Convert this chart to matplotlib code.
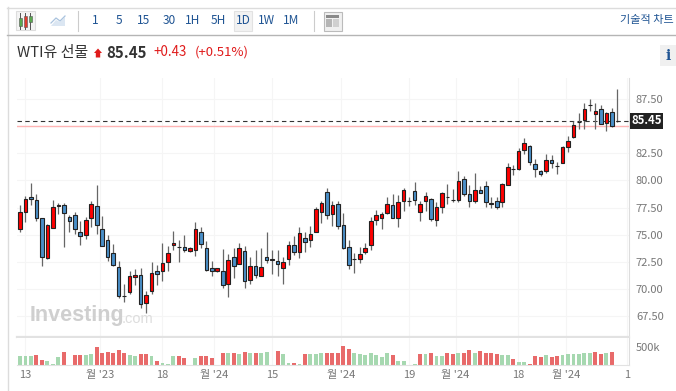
#WTI candlestick chart with volume, investing.com style
import matplotlib
matplotlib.use("Agg")
import matplotlib.pyplot as plt
from matplotlib.patches import Rectangle, Polygon

plt.rcParams['font.family'] = ['Noto Sans CJK KR', 'DejaVu Sans']

W, H = 676, 391

opens = [75.55,77.09,78.44,78.17,76.54,72.86,75.65,77.61,77.77,76.6,76.78,75.22,75.0,76.54,77.67,75.56,74.48,73.29,72.06,69.33,
         69.69,71.11,71.32,68.68,69.79,71.6,71.66,72.43,74.02,73.84,73.84,73.47,73.56,75.22,73.75,71.9,71.6,71.66,70.43,72.98,
         72.3,73.47,70.86,72.15,71.23,72.98,72.64,72.55,71.9,72.73,74.02,73.38,74.67,74.51,75.25,77.12,78.9,76.94,77.8,75.86,
         73.83,72.73,72.73,73.43,74.02,76.35,76.54,76.99,77.76,76.5,78.07,78.07,78.99,77.09,78.07,78.32,76.35,77.58,78.5,78.22,
         78.22,80.1,78.71,78.07,79.11,79.45,77.8,78.08,78.01,79.61,81.05,81.02,82.77,83.2,81.48,80.84,80.84,81.88,81.33,81.64,
         83.11,83.97,85.38,85.6,86.92,86.09,86.58,85.29,86.27,85.45]
closes = [77.09,78.26,78.26,76.57,72.89,75.86,77.58,77.74,77.0,76.29,75.49,74.85,76.39,77.8,75.89,73.99,72.98,72.24,69.33,69.33,
          71.14,71.26,68.59,69.39,71.5,71.35,72.4,73.35,74.21,73.84,73.56,73.75,75.56,74.11,71.75,71.6,71.9,70.31,72.64,72.15,
          73.75,70.71,72.15,71.32,72.0,72.64,72.73,72.3,72.46,74.02,73.38,75.13,74.33,75.07,77.34,77.95,76.78,77.74,75.83,73.77,
          72.24,72.73,73.25,73.77,76.23,76.78,76.87,77.82,76.57,77.98,79.11,78.07,78.16,77.82,78.56,76.41,77.52,78.81,78.5,78.22,
          79.94,78.71,78.07,79.11,78.87,77.98,77.89,77.55,79.7,81.21,81.05,82.68,83.42,81.67,81.02,80.56,81.88,81.58,81.33,83.11,
          83.66,85.14,85.38,86.58,86.92,86.43,85.23,86.18,84.98,85.45]
highs = [77.73,78.56,79.73,78.75,76.54,75.99,78.2,77.95,77.89,76.82,77.06,76.26,76.66,78.07,79.58,76.72,74.97,74.14,72.61,70.46,
         71.6,71.81,71.9,69.76,72.43,72.21,74.21,73.96,75.34,74.51,74.94,73.84,76.17,75.71,74.39,72.58,71.96,73.65,73.22,73.81,
         74.21,73.96,72.92,73.59,73.81,75.28,73.59,73.59,72.92,74.42,74.91,75.74,75.28,75.83,77.55,78.07,79.27,78.1,78.1,76.97,
         74.51,73.28,73.83,74.2,76.6,77.27,77.06,78.44,78.75,78.65,79.27,78.5,79.82,78.13,78.93,78.35,78.01,78.93,79.64,79.24,
         80.86,80.37,79.57,80.68,79.48,79.94,78.44,78.5,79.79,81.58,81.39,83.02,83.88,83.26,81.94,80.96,82.43,82.34,81.73,83.17,
         84.09,85.44,86.18,87.1,87.53,87.1,86.92,86.3,86.64,88.42]
lows = [75.28,76.2,77.73,76.29,72.12,72.79,75.59,76.91,73.84,75.28,75.07,74.08,74.64,75.68,75.03,73.96,72.61,72.12,69.11,68.8,
        69.54,70.34,68.22,67.76,69.54,70.37,70.68,71.6,73.59,72.46,73.44,73.41,73.07,73.75,71.69,71.2,71.54,70.12,69.29,70.98,
        72.27,70.12,70.49,70.98,71.14,72.36,71.38,71.2,70.49,72.21,73.13,72.86,73.44,73.9,75.22,76.11,76.42,75.83,75.56,73.68,
        71.81,71.44,72.36,73.22,73.59,75.92,75.55,76.9,76.5,75.74,77.18,77.64,77.73,76.29,77.21,76.29,75.8,76.97,77.82,78.01,
        78.04,78.56,77.58,77.95,78.81,77.55,77.43,77.34,77.52,79.55,80.5,80.96,82.43,81.45,80.35,80.41,80.65,81.11,80.56,81.58,
        82.62,83.91,84.74,84.71,86.36,84.71,85.17,84.55,84.92,85.41]

# volume in thousands, some days have no bar
volumes = [246,246,246,264,127,100,27,218,364,0,264,264,264,291,500,337,355,337,410,318,
           282,246,291,291,246,100,64,18,237,237,191,0,191,237,237,191,0,318,318,318,
           291,355,328,318,337,355,0,382,291,64,64,18,291,291,291,337,318,318,318,528,
           428,318,291,264,318,282,209,318,264,118,100,0,27,291,309,318,246,246,318,300,
           337,318,410,337,382,318,318,291,282,264,164,73,73,18,237,209,264,209,237,264,
           291,309,291,328,318,364,291,328,364,0]
vol_sides = list("gggrrgggrr" "rrggrrrrrr" "ggrrgrgggr" "rrgrrrrrgr" "grgrggrrgg"
                 "rgrgggrrrr" "rgggggggrg" "gggrgrggrr" "grrgrrrrgg" "rggrrrgrrg" "gggggrrgrg")

price_ticks = [67.5, 70, 72.5, 75, 77.5, 80, 82.5, 87.5]
price_labels = ["67.50", "70.00", "72.50", "75.00", "77.50", "80.00", "82.50", "87.50"]
date_ticks = [1.9, 15.6, 27, 36.4, 47, 59.6, 72, 80.5, 91.9, 100.6, 111.8]
date_labels = ["13", "월 '23", "18", "월 '24", "15", "월 '24", "19", "월 '24", "18", "월 '24", "1"]
intervals = ["1", "5", "15", "30", "1H", "5H", "1D", "1W", "1M"]
last_price = 85.45
prev_line = 85.0

fig = plt.figure(figsize=(W / 100, H / 100), dpi=100)

def pane(l, t, r, b):
    return fig.add_axes([l / W, 1 - b / H, (r - l) / W, (b - t) / H])

# x index 1 sits at pixel 20, bars are 5.48 px apart
x0 = 1 - 3 / 5.48
x1 = 1 + (629 - 20) / 5.48

ax = pane(17, 78, 629, 337)
ax.set_xlim(x0, x1)
ax.set_ylim(65.56, 89.44)
ax.set_yticks(price_ticks + [prev_line])
ax.set_yticklabels(price_labels + [""])
ax.yaxis.tick_right()
ax.tick_params(axis='y', length=0, pad=5, labelsize=8, labelcolor='#777777')
ax.set_xticks(date_ticks)
ax.tick_params(axis='x', length=0, labelbottom=False)
ax.grid(True, color='#f5f5f5', lw=0.8)
ax.set_axisbelow(True)
for s in ['top', 'left']:
    ax.spines[s].set_visible(False)
ax.spines['right'].set_color('#dddddd')
ax.spines['bottom'].set_color('#e2e2e2')
ax.spines['bottom'].set_linewidth(1.6)

xs = list(range(1, len(opens) + 1))
ax.axhline(prev_line, color='#ffb4b4', lw=1.0, zorder=1)
ax.axhline(last_price, color='#333333', lw=0.8, dashes=(4, 3), zorder=1)
ax.vlines(xs, lows, highs, color='#666666', lw=0.9, zorder=2)
body_col = ['#ff0000' if c >= o else '#4a8fc9' for o, c in zip(opens, closes)]
ax.bar(xs, [abs(c - o) for o, c in zip(opens, closes)], bottom=[min(o, c) for o, c in zip(opens, closes)],
       width=0.66, color=body_col, edgecolor='#222222', lw=0.8, zorder=3)

axv = pane(17, 338, 629, 365)
axv.set_xlim(x0, x1)
axv.set_ylim(0, 738)
vol_col = ['#a6d8b0' if s == 'g' else '#e86a6a' for s in vol_sides]
axv.bar(xs, volumes, width=0.72, color=vol_col, zorder=2)
axv.set_yticks([500])
axv.set_yticklabels(["500k"])
axv.yaxis.tick_right()
axv.tick_params(axis='y', length=0, pad=5, labelsize=8, labelcolor='#777777')
axv.set_xticks(date_ticks)
axv.set_xticklabels(date_labels)
axv.tick_params(axis='x', length=0, pad=3.5, labelsize=8, labelcolor='#777777')
axv.grid(True, axis='x', color='#f5f5f5', lw=0.8)
axv.set_axisbelow(True)
for s in ['top', 'left']:
    axv.spines[s].set_visible(False)
axv.spines['right'].set_color('#dddddd')
axv.spines['bottom'].set_color('#e2e2e2')

# page furniture in pixel coordinates
top = fig.add_axes([0, 0, 1, 1], zorder=5)
top.set_xlim(0, W)
top.set_ylim(H, 0)
top.axis('off')
top.patch.set_alpha(0)

top.plot([7, W], [7.5, 7.5], color='#dcdcdc', lw=1.0)
top.plot([7.5, 7.5], [7, H], color='#dcdcdc', lw=1.0)
top.plot([7, W], [34.5, 34.5], color='#b5b5b5', lw=1.0)
top.plot([77.5, 77.5], [11, 31], color='#cccccc', lw=0.8)
top.plot([313.5, 313.5], [11, 31], color='#cccccc', lw=0.8)

# candle icon
top.add_patch(Rectangle((15.5, 11), 19, 19, fc='#f4f4f4', ec='#dddddd', lw=0.8))
for cx, c, y1, y2 in [(20, '#5aa84f', 18, 26), (25, '#e03b2e', 16, 27), (30, '#5aa84f', 16, 22)]:
    top.plot([cx, cx], [13, 29], color='#555555', lw=0.7)
    top.add_patch(Rectangle((cx - 1.5, y1), 3, y2 - y1, fc=c, ec='#555555', lw=0.4, zorder=3))
# area icon
top.add_patch(Polygon([(51, 26), (56, 20), (60, 22), (65, 17), (65, 26)], fc='#dbe6f2', ec='none'))
top.plot([51, 56, 60, 65], [23, 18, 21, 16], color='#a9c3de', lw=0.9)
# layout icon
top.add_patch(Rectangle((323.5, 11.5), 18, 19, fc='#f0f0f0', ec='#bbbbbb', lw=0.8))
top.add_patch(Rectangle((326, 15), 13, 2.5, fc='#8a8a8a', ec='none'))
top.add_patch(Rectangle((326, 19), 6, 8, fc='#b5b5b5', ec='none'))
top.add_patch(Rectangle((333, 19), 6, 8, fc='#d0d0d0', ec='none'))

top.add_patch(Rectangle((233.5, 11), 18, 20, fc='#f2f2f2', ec='#e2e2e2', lw=0.8))
for label, cx in zip(intervals, [95, 119, 144, 169, 193, 218, 243, 267, 291]):
    top.text(cx, 20.5, label, ha='center', va='center', fontsize=8.6, color='#1f5493', fontweight='medium')
top.text(674, 20.5, "기술적 차트", ha='right', va='center', fontsize=8, color='#1f5493')

top.text(17, 52.5, "WTI유 선물", ha='left', va='center', fontsize=10.8, color='#333333')
top.add_patch(Polygon([(98, 48.5), (102, 53), (100.2, 53), (100.2, 57.5), (95.8, 57.5), (95.8, 53), (94, 53)],
                      fc='#e01b1b', ec='none'))
top.text(106, 52.5, "85.45", ha='left', va='center', fontsize=10.8, fontweight='bold', color='#333333')
top.text(153, 52.5, "+0.43", ha='left', va='center', fontsize=9.6, color='#e01b1b')
top.text(195, 52.5, "(+0.51%)", ha='left', va='center', fontsize=9.5, color='#e01b1b')

top.add_patch(Rectangle((660, 45), 16, 21, fc='#f0f0f0', ec='none'))
top.text(668, 55.5, "i", ha='center', va='center', fontsize=10, fontweight='bold', family='DejaVu Serif', color='#1f5493')

top.add_patch(Rectangle((630, 113), 33, 16, fc='#222222', ec='none'))
top.text(646.5, 121, "85.45", ha='center', va='center', fontsize=8.2, fontweight='bold', color='white')

top.text(30, 316, "Investing", ha='left', va='center', fontsize=15.5, fontweight='bold', family='Liberation Sans', color='#cfcfcf')
top.text(122, 319, ".com", ha='left', va='center', fontsize=10.5, family='Liberation Sans', color='#dddddd')

fig.savefig("out.png", dpi=100)
